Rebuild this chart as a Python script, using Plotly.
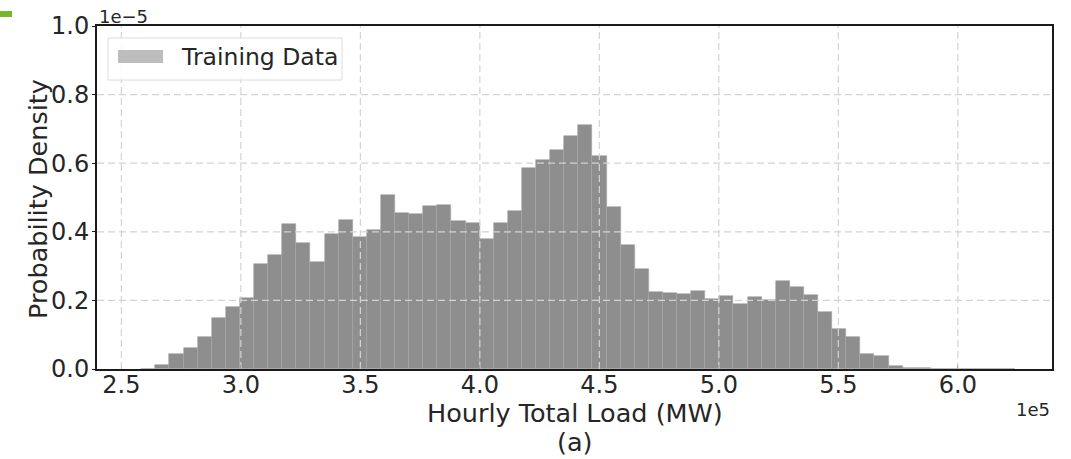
import numpy as np
import plotly.graph_objects as go

# ---------------- data ----------------
BIN_START_MW = 258300          # left edge of first bin (MW)
BIN_WIDTH_MW = 5900            # bin width (MW)
# probability density per bin, in units of 1e-5
density_e5 = [
    0.0003, 0.011, 0.043, 0.060, 0.094, 0.150, 0.181, 0.208, 0.306, 0.331,
    0.423, 0.368, 0.313, 0.394, 0.434, 0.386, 0.405, 0.507, 0.454, 0.451,
    0.475, 0.479, 0.432, 0.427, 0.379, 0.427, 0.461, 0.587, 0.610, 0.639,
    0.678, 0.712, 0.621, 0.472, 0.361, 0.291, 0.224, 0.222, 0.218, 0.227,
    0.205, 0.213, 0.189, 0.211, 0.201, 0.256, 0.238, 0.215, 0.166, 0.118,
    0.092, 0.043, 0.037, 0.008, 0.004, 0.002, 0.001, 0.0008, 0.0005, 0.0003,
    0.0002, 0.0001,
]
x_tick_vals = [250000, 300000, 350000, 400000, 450000, 500000, 550000, 600000]
x_tick_text = ["2.5", "3.0", "3.5", "4.0", "4.5", "5.0", "5.5", "6.0"]
y_tick_vals_e5 = [0.0, 0.2, 0.4, 0.6, 0.8, 1.0]
y_tick_text = ["0.0", "0.2", "0.4", "0.6", "0.8", "1.0"]
series_name = "Training Data"
x_title = "Hourly Total Load (MW)"
sub_caption = "(a)"
y_title = "Probability Density"

# ---------------- derived ----------------
n = len(density_e5)
x_centers = BIN_START_MW + BIN_WIDTH_MW * (np.arange(n) + 0.5)
y_vals = np.array(density_e5) * 1e-5
y_tick_vals = [v * 1e-5 for v in y_tick_vals_e5]

FONT = "DejaVu Sans"
TXT = "#262626"
W, H = 1071, 459
ML, MR, MT, MB = 97, 19, 26, 90
PW = W - ML - MR
PH = H - MT - MB

def px_x(p):
    return (p - ML) / PW

def px_y(p):
    return (H - MB - p) / PH

fig = go.Figure()
fig.add_trace(go.Bar(
    x=x_centers, y=y_vals, width=BIN_WIDTH_MW,
    marker=dict(color="#8e8e8e", line=dict(color="#a4a4a4", width=0.6)),
    name=series_name, showlegend=False,
))

shapes = []
grid_line = dict(color="#d4d4d4", width=1.2, dash="7px,4px")
for tv in x_tick_vals:
    shapes.append(dict(type="line", xref="x", yref="paper", x0=tv, x1=tv,
                       y0=0, y1=1, line=grid_line, layer="above"))
for tv in y_tick_vals[1:-1]:
    shapes.append(dict(type="line", xref="paper", yref="y", x0=0, x1=1,
                       y0=tv, y1=tv, line=grid_line, layer="above"))

# legend (drawn manually to get the wide matplotlib patch)
shapes.append(dict(type="rect", xref="paper", yref="paper",
                   x0=px_x(108), x1=px_x(342), y0=px_y(80), y1=px_y(38),
                   fillcolor="rgba(255,255,255,0.85)",
                   line=dict(color="#dcdcdc", width=1), layer="above"))
shapes.append(dict(type="rect", xref="paper", yref="paper",
                   x0=px_x(118), x1=px_x(163), y0=px_y(63), y1=px_y(50),
                   fillcolor="#bdbdbd", line=dict(width=0), layer="above"))
# green document marker at top-left
shapes.append(dict(type="rect", xref="paper", yref="paper",
                   x0=px_x(0), x1=px_x(12), y0=px_y(17), y1=px_y(11),
                   fillcolor="#76b82a", line=dict(width=0), layer="above"))

annotations = [
    dict(text=series_name, xref="paper", yref="paper", x=px_x(179), y=px_y(57),
         xanchor="left", yanchor="middle", showarrow=False,
         font=dict(family=FONT, size=23.5, color=TXT)),
    dict(text="1e\u22125", xref="paper", yref="paper", x=0, y=1,
         xanchor="left", yanchor="bottom", showarrow=False, yshift=-3,
         font=dict(family=FONT, size=18, color=TXT)),
    dict(text="1e5", xref="paper", yref="paper", x=1.0, y=px_y(409),
         xanchor="right", yanchor="middle", showarrow=False,
         font=dict(family=FONT, size=18, color=TXT)),
    dict(text=x_title, xref="paper", yref="paper", x=0.5, y=px_y(413),
         xanchor="center", yanchor="middle", showarrow=False,
         font=dict(family=FONT, size=25.5, color=TXT)),
    dict(text=sub_caption, xref="paper", yref="paper", x=0.5, y=px_y(442),
         xanchor="center", yanchor="middle", showarrow=False,
         font=dict(family=FONT, size=25.5, color=TXT)),
    dict(text=y_title, xref="paper", yref="paper", x=px_x(38), y=px_y(199),
         xanchor="center", yanchor="middle", showarrow=False, textangle=-90,
         font=dict(family=FONT, size=25.5, color=TXT)),
]

axis_common = dict(
    showline=True, linecolor="#1a1a1a", linewidth=2, mirror=True,
    showgrid=False, zeroline=False, layer="above traces",
    tickcolor="#1a1a1a", tickwidth=1,
    tickfont=dict(family=FONT, size=24, color=TXT),
)

fig.update_layout(
    width=W, height=H,
    margin=dict(l=ML, r=MR, t=MT, b=MB, autoexpand=False),
    paper_bgcolor="white", plot_bgcolor="white",
    bargap=0,
    showlegend=False,
    font=dict(family=FONT, color=TXT),
    xaxis=dict(axis_common, range=[239800, 639400], ticks="inside", ticklen=4,
               ticklabelstandoff=-7,
               tickmode="array", tickvals=x_tick_vals, ticktext=x_tick_text),
    yaxis=dict(axis_common, range=[0, 1.0e-5], ticks="outside", ticklen=3,
               ticklabelstandoff=-2,
               tickmode="array", tickvals=y_tick_vals, ticktext=y_tick_text),
    shapes=shapes,
    annotations=annotations,
)

fig.write_html("out.html")
